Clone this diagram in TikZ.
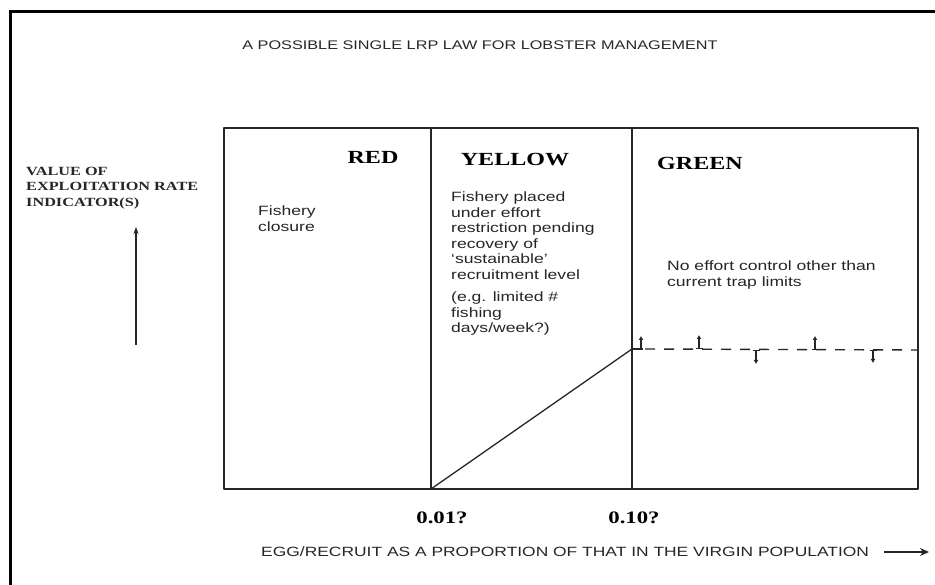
\documentclass[tikz,border=0pt]{standalone}
\usepackage{fontspec}
\usetikzlibrary{arrows.meta}
\newfontfamily\headfont{Liberation Serif}[FakeStretch=1.3]
\newfontfamily\bodyfont{Liberation Sans}[FakeStretch=1.3]

\begin{document}
\begin{tikzpicture}[x=1pt,y=-1pt,
  frameline/.style={line width=3pt, draw=black},
  boxline/.style={line width=1.3pt, draw=black!85, line join=round},
  zone/.style={font=\headfont\bfseries\fontsize{18.5}{20}\selectfont, inner sep=0},
  note/.style={font=\bodyfont\fontsize{13.5}{15.5}\selectfont, align=left, anchor=north west, inner sep=0, text=black!85},
  caps/.style={font=\bodyfont\fontsize{13.4}{15}\selectfont, inner sep=0, text=black!85},
  tickval/.style={font=\headfont\bfseries\fontsize{17.5}{19}\selectfont, inner sep=0},
  ylab/.style={font=\headfont\bfseries\fontsize{12.5}{15.5}\selectfont, align=left, anchor=north west, inner sep=0, text=black!85},
  ebar/.style={line width=1.4pt, draw=black!85, {Bar[width=7pt]}-{Latex[length=4pt,width=5pt]}},
]
\useasboundingbox (0,0) rectangle (935,585);

% outer page frame (left and top edges)
\draw[frameline] (10,585) -- (10,12) -- (935,12);

% title
\node[caps, font=\bodyfont\fontsize{12.5}{14}\selectfont] (title) at (480,45) {A POSSIBLE SINGLE LRP LAW FOR LOBSTER MANAGEMENT};

% zone box corners and dividers
\coordinate (tl) at (224,128);
\coordinate (br) at (918,489);
\coordinate (d1t) at (431,128);
\coordinate (d1b) at (431,489);
\coordinate (d2t) at (632,128);
\coordinate (d2b) at (632,489);
\draw[boxline] (tl) rectangle (br);
\draw[boxline] (d1t) -- (d1b);
\draw[boxline] (d2t) -- (d2b);

% zone headings
\node[zone] (red) at (373,157) {RED};
\node[zone] (yellow) at (515,160) {YELLOW};
\node[zone] (green) at (700,163) {GREEN};

% zone descriptions
\node[note] (closure) at (258,206) {Fishery\\closure};
\node[note] (restrict) at (451,192) {Fishery placed\\under effort\\restriction pending\\recovery of\\‘sustainable’\\recruitment level\\[7pt](e.g. limited \#\\fishing\\days/week?)};
\node[note] (nocontrol) at (667,261) {No effort control other than\\current trap limits};

% y axis label and arrow
\node[ylab] (ylabel) at (26,167) {VALUE OF\\EXPLOITATION RATE\\INDICATOR(S)};
\coordinate (yarrS) at (136,345);
\coordinate (yarrE) at (136,227);
\draw[boxline, -{Stealth[length=7pt,width=5pt]}] (yarrS) -- (yarrE);

% exploitation rate law: ramp then level
\coordinate (knee) at (632,349);
\coordinate (lvlend) at (918,350);
\draw[line width=1.3pt, draw=black!85] (d1b) -- (knee);
\draw[line width=1.4pt, draw=black!85] (knee) -- (643,349);
\draw[line width=1.4pt, draw=black!85, dash pattern=on 10pt off 9pt, dash phase=-2pt] (643,349) -- (lvlend);

% variability markers along the level
\coordinate (m1) at (641,349);
\coordinate (m2) at (699,349);
\coordinate (m3) at (756,350);
\coordinate (m4) at (815,350);
\coordinate (m5) at (873,350);
\draw[line width=1.4pt, draw=black!85, -{Latex[length=4pt,width=5pt]}] (m1) -- ++(0,-13);
\draw[ebar] (m2) -- ++(0,-14);
\draw[ebar] (m3) -- ++(0,14);
\draw[ebar] (m4) -- ++(0,-14);
\draw[ebar] (m5) -- ++(0,13);

% x axis values
\node[tickval] (v1) at (442,518) {0.01?};
\node[tickval] (v2) at (634,518) {0.10?};

% x axis label and arrow
\node[caps, anchor=west] (xlabel) at (261,552) {EGG/RECRUIT AS A PROPORTION OF THAT IN THE VIRGIN POPULATION};
\coordinate (xarrS) at (884,552);
\coordinate (xarrE) at (929,552);
\draw[line width=1.5pt, draw=black!85, -{Stealth[length=9pt,width=8pt]}] (xarrS) -- (xarrE);
\end{tikzpicture}
\end{document}
